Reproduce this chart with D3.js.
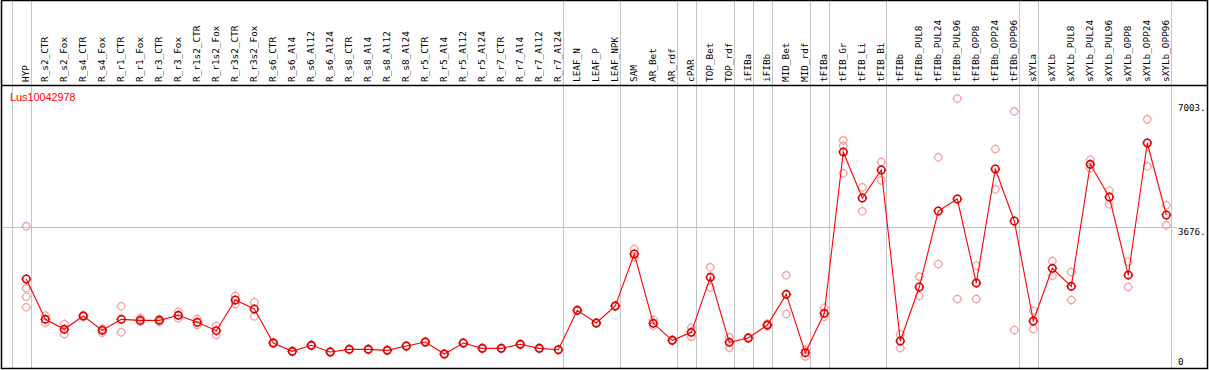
<!DOCTYPE html>
<html>
<head>
<meta charset="utf-8">
<script src="https://cdn.jsdelivr.net/npm/d3@7"></script>
<style>
body { margin: 0; background: #fff; }
svg { display: block; }
</style>
</head>
<body>
<svg id="chart" width="1209" height="370"></svg>
<script>
var geneName = "Lus10042978";

var categories = ["HYP", "R_s2_CTR", "R_s2_Fox", "R_s4_CTR", "R_s4_Fox", "R_r1_CTR", "R_r1_Fox",
    "R_r3_CTR", "R_r3_Fox", "R_r1s2_CTR", "R_r1s2_Fox", "R_r3s2_CTR", "R_r3s2_Fox",
    "R_s6_CTR", "R_s6_Al4", "R_s6_Al12", "R_s6_Al24", "R_s8_CTR", "R_s8_Al4", "R_s8_Al12", "R_s8_Al24",
    "R_r5_CTR", "R_r5_Al4", "R_r5_Al12", "R_r5_Al24", "R_r7_CTR", "R_r7_Al4", "R_r7_Al12", "R_r7_Al24",
    "LEAF_N", "LEAF_P", "LEAF_NPK", "SAM", "AR_Bet", "AR_rdf", "cPAR", "TOP_Bet", "TOP_rdf",
    "iFIBa", "iFIBb", "MID_Bet", "MID_rdf", "tFIBa", "tFIB_Gr", "tFIB_Li", "tFIB_Bi",
    "tFIBb", "tFIBb_PUL8", "tFIBb_PUL24", "tFIBb_PUL96", "tFIBb_OPP8", "tFIBb_OPP24", "tFIBb_OPP96",
    "sXYLa", "sXYLb", "sXYLb_PUL8", "sXYLb_PUL24", "sXYLb_PUL96", "sXYLb_OPP8", "sXYLb_OPP24", "sXYLb_OPP96"];

var means = [2312, 1264, 1005, 1351, 979, 1264, 1238, 1238, 1369, 1187, 970, 1767, 1533,
    650, 433, 589, 416, 485, 485, 459, 572, 675, 364, 650, 511, 511, 615, 511, 476,
    1498, 1169, 1611, 2962, 1161, 719, 927, 2356, 667, 779, 1117, 1914, 398, 1420, 5612, 4417, 5144,
    701, 2104, 4079, 4391, 2208, 5170, 3819,
    1221, 2590, 2122, 5292, 4443, 2416, 5846, 3975];

var replicates = [
    [3681, 2070, 1853, 1577], [1359, 1177], [1143, 883], [1370, 1330], [1021, 917], [1603, 927],
    [1299, 1203], [1270, 1205], [1463, 1291], [1273, 1117], [1099, 857], [1871, 1663], [1707, 1343],
    [665, 635], [445, 420], [600, 578], [428, 404], [495, 475], [497, 473], [470, 448], [585, 560],
    [690, 660], [375, 352], [662, 638], [522, 500], [520, 502], [628, 602], [522, 500], [488, 464],
    [1510, 1486], [1180, 1158], [1625, 1597], [3092, 2876], [1247, 1099], [730, 708], [1047, 814],
    [2616, 2096], [797, 528], [790, 768], [1150, 1085], [2408, 1403], [468, 303], [1567, 1333],
    [5915, 5775, 5058], [4694, 4071], [5352, 4876], [875, 520], [2373, 1871], [5474, 2702],
    [7003, 1793], [2658, 1793], [5690, 4643], [6669, 987], [1489, 1013], [2780, 2398], [2494, 1767],
    [5412, 5188], [4607, 4253], [2762, 2104], [6461, 5240], [4227, 3707]];

// last category of each group, a grey line is drawn right after it
var groupEnds = ["HYP", "R_r7_Al24", "LEAF_NPK", "AR_rdf", "cPAR", "TOP_rdf", "iFIBa", "iFIBb",
    "MID_rdf", "tFIBa", "tFIB_Bi", "tFIBb_OPP96", "sXYLa", "sXYLb_OPP96"];

var maxValue = 7003;
var yTicks = [0, 3676, 7003];
var yTickLabels = ["0", "3676.", "7003."];

var svg = d3.select("#chart");
var plotTop = 85, plotBottom = 368, plotLeft = 1, plotRight = 1207;

var x = d3.scalePoint().domain(categories).range([26.3, 1166.3]);
var y = d3.scaleLinear().domain([0, maxValue * 1.05]).range([plotBottom, plotTop]);
var step = x.step();

// separators
var sepX = [x(categories[0]) - step + 4.4];
groupEnds.forEach(function (c) { sepX.push(x(c) + 4.4); });
svg.selectAll("line.sep").data(sepX).enter().append("line")
    .attr("class", "sep")
    .attr("x1", function (d) { return Math.round(d) + 0.5; })
    .attr("x2", function (d) { return Math.round(d) + 0.5; })
    .attr("y1", 0).attr("y2", plotBottom)
    .style("stroke", "#c4c4c4").style("stroke-width", 1);

// horizontal grid at mid value
svg.append("line")
    .attr("x1", plotLeft).attr("x2", 1177)
    .attr("y1", Math.round(y(3676)) + 0.5).attr("y2", Math.round(y(3676)) + 0.5)
    .style("stroke", "#c4c4c4").style("stroke-width", 1);

// frame
svg.append("rect")
    .attr("x", plotLeft + 0.5).attr("y", 0.5)
    .attr("width", plotRight - plotLeft).attr("height", plotBottom)
    .style("fill", "none").style("stroke", "#000").style("stroke-width", 1.5);
svg.append("line")
    .attr("x1", plotLeft).attr("x2", plotRight)
    .attr("y1", plotTop + 0.5).attr("y2", plotTop + 0.5)
    .style("stroke", "#000").style("stroke-width", 1.5);

// category labels
svg.selectAll("text.cat").data(categories).enter().append("text")
    .attr("class", "cat")
    .attr("transform", function (d) { return "translate(" + (x(d) + 3) + ",82) rotate(-90)"; })
    .style("font-family", "DejaVu Sans Mono")
    .style("font-size", "9.4px")
    .style("fill", "#000")
    .text(function (d) { return d; });

// y tick labels
svg.selectAll("text.ytick").data(yTicks).enter().append("text")
    .attr("class", "ytick")
    .attr("x", 1178)
    .attr("y", function (d) { return Math.min(Math.max(y(d) + 8.5, 111), 365); })
    .style("font-family", "DejaVu Sans Mono")
    .style("font-size", "9.2px")
    .style("fill", "#000")
    .text(function (d, i) { return yTickLabels[i]; });

// gene name
svg.append("text")
    .attr("x", 10).attr("y", 101)
    .style("font-family", "Liberation Sans")
    .style("font-size", "10.8px")
    .style("fill", "#ff0000")
    .text(geneName);

var R = 3.7;
var nubs = "M0," + (-R - 1.2) + "V" + (-R) + "M0," + R + "V" + (R + 1.2) +
    "M" + (-R - 1.2) + ",0H" + (-R) + "M" + R + ",0H" + (R + 1.2);

function drawMarkers(cls, data, px, py, color, width) {
    var g = svg.selectAll("g." + cls).data(data).enter().append("g")
        .attr("class", cls)
        .attr("transform", function (d, i) { return "translate(" + px(d, i) + "," + py(d, i) + ")"; });
    g.append("circle").attr("r", R)
        .style("fill", "none").style("stroke", color).style("stroke-width", width);
    g.append("path").attr("d", nubs)
        .style("fill", "none").style("stroke", color).style("stroke-width", 1);
}

// replicate points
var repPts = [];
replicates.forEach(function (vals, i) {
    vals.forEach(function (v) { repPts.push({ c: categories[i], v: v }); });
});
drawMarkers("rep", repPts,
    function (d) { return x(d.c); }, function (d) { return y(d.v); }, "#f2a0a0", 1.2);

// mean line
var line = d3.line()
    .x(function (d, i) { return x(categories[i]); })
    .y(function (d) { return y(d); });
svg.append("path")
    .datum(means)
    .attr("d", line)
    .style("fill", "none").style("stroke", "#ff0000").style("stroke-width", 1.1);

// mean points
drawMarkers("mean", means,
    function (d, i) { return x(categories[i]); }, function (d) { return y(d); }, "#dd0000", 1.6);
</script>
</body>
</html>
